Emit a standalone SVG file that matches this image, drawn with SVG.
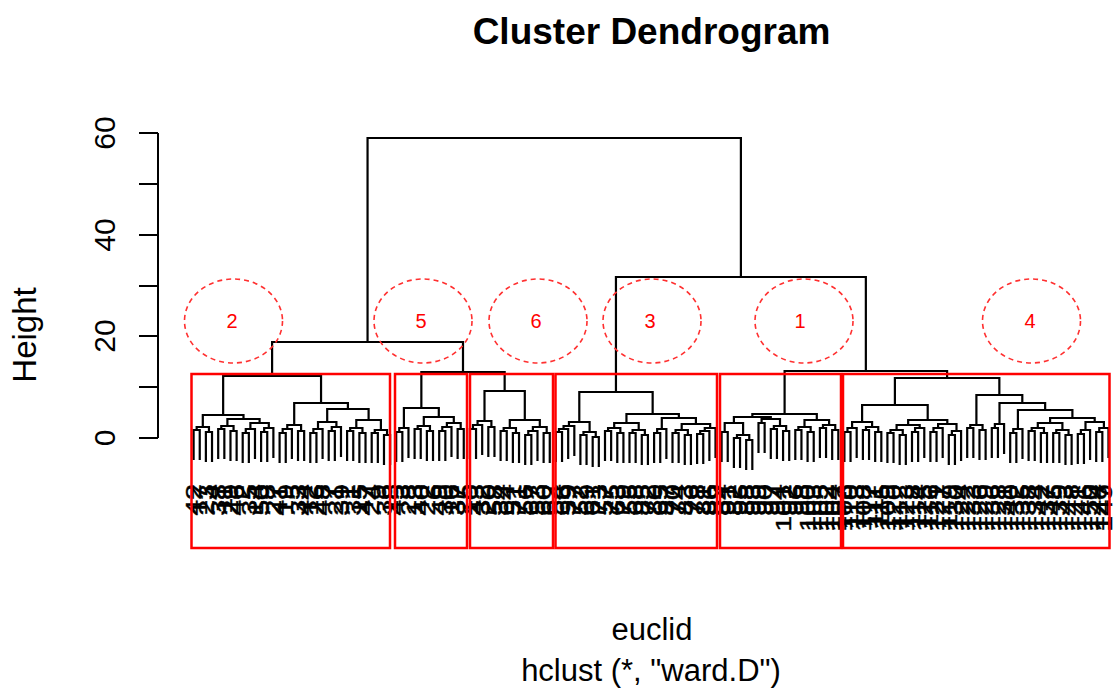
<svg xmlns="http://www.w3.org/2000/svg" xmlns:xlink="http://www.w3.org/1999/xlink" width="1117" height="693" viewBox="0 0 1117 693">
<style>
.t{font-family:"Liberation Sans",Arial,sans-serif;fill:#000}
.dg{fill:none;stroke:#000;stroke-width:2.2}
.ax{fill:none;stroke:#000;stroke-width:2}
.lab text{font-family:"Liberation Sans",Arial,sans-serif;font-size:22px;text-anchor:end;dominant-baseline:central;fill:#000;stroke:#000;stroke-width:0.4}
.box{fill:none;stroke:#ff0000;stroke-width:2.5}
.cl{fill:none;stroke:#ff3030;stroke-width:1.6;stroke-dasharray:5 4}
.cn{font-family:"Liberation Sans",Arial,sans-serif;font-size:20px;fill:#ff0000;text-anchor:middle}
</style>
<defs>
<path id="p2" class="dg" d="M0 30V0H6.14V30"/>
<path id="m3a" class="dg" d="M0 34V4H6.14V34M3.07 4V0H12.28V30"/>
<path id="m4a" class="dg" d="M0 33V3H6.14V33M12.28 35V5H18.42V35M3.07 3V0H15.35V5"/>
<path id="m4b" class="dg" d="M0 36V6H6.14V36M3.07 6V3H12.28V33M7.675 3V0H18.42V30"/>
<path id="m5" class="dg" d="M0 38V8H6.14V38M3.07 8V4H12.28V34M18.42 36V6H24.56V36M7.675 4V0H21.49V6"/>
</defs>
<rect width="1117" height="693" fill="#fff"/>
<text class="t" x="651.5" y="44" font-size="37" font-weight="bold" text-anchor="middle">Cluster Dendrogram</text>
<text class="t" x="652" y="640" font-size="31" text-anchor="middle">euclid</text>
<text class="t" x="651" y="681" font-size="31" text-anchor="middle">hclust (*, "ward.D")</text>
<g id="axis">
<path class="ax" d="M158 133V438M139 133H158M139 184H158M139 235H158M139 286H158M139 336H158M139 387H158M139 438H158"/>
<g class="t" font-size="30" text-anchor="middle">
<text transform="translate(115 133) rotate(-90)">60</text>
<text transform="translate(115 235) rotate(-90)">40</text>
<text transform="translate(115 336) rotate(-90)">20</text>
<text transform="translate(115 438) rotate(-90)">0</text>
</g>
<text class="t" font-size="33" text-anchor="middle" transform="translate(36 335) rotate(-90)">Height</text>
</g>
<g id="connectors">
<g id="leaf-subtrees">
<use href="#m4a" x="193.6" y="427"/><use href="#m4a" x="218.2" y="426"/><use href="#m3a" x="242.7" y="429"/><use href="#m3a" x="261.1" y="428"/><use href="#m5" x="279.6" y="425"/><use href="#m3a" x="310.3" y="429"/><use href="#m3a" x="328.7" y="427"/><use href="#m4a" x="347.1" y="428"/><use href="#m4a" x="371.7" y="430"/>
<use href="#m3a" x="396.2" y="428"/><use href="#m4a" x="414.6" y="426"/><use href="#m5" x="439.2" y="423"/>
<use href="#m5" x="469.9" y="421"/><use href="#m4a" x="500.6" y="428"/><use href="#m5" x="525.2" y="427"/>
<use href="#m4b" x="555.9" y="426"/><use href="#m4a" x="580.4" y="432"/><use href="#m4a" x="605.0" y="428"/><use href="#m4a" x="629.5" y="430"/><use href="#m3a" x="654.1" y="429"/><use href="#m4a" x="672.5" y="430"/><use href="#m4b" x="697.1" y="428"/>
<use href="#p2" x="721.6" y="432"/><use href="#m4a" x="733.9" y="435"/><use href="#p2" x="758.5" y="423"/><use href="#m4a" x="770.8" y="426"/><use href="#m4a" x="795.3" y="427"/><use href="#m4a" x="819.9" y="425"/>
<use href="#m3a" x="844.4" y="428"/><use href="#m4a" x="862.9" y="427"/><use href="#m4a" x="887.4" y="430"/><use href="#m3a" x="912.0" y="428"/><use href="#m3a" x="930.4" y="428"/><use href="#m3a" x="948.8" y="431"/><use href="#m4a" x="967.2" y="425"/><use href="#m3a" x="991.8" y="424"/><use href="#m3a" x="1010.2" y="429"/><use href="#m4a" x="1028.6" y="428"/><use href="#m4a" x="1053.2" y="430"/><use href="#m3a" x="1077.8" y="430"/><use href="#m3a" x="1096.2" y="428"/>
</g>
<path class="dg" d="M250.4 429V423H268.8V428M227.4 426V419H259.6V423M202.8 427V415H243.5V419M318 429V422H336.4V427M356.3 428V420H380.9V430M327.2 422V409H368.6V420M294.2 425V403H347.9V409M223.15 415V376H321.05V403"/>
<path class="dg" d="M423.8 426V417H453.8V423M403.9 428V408H438.8V417"/>
<path class="dg" d="M509.8 428V420H539.8V427M484.5 421V391H524.8V420M421.35 408V372H504.65V391M272.1 376V342H463V372"/>
<path class="dg" d="M568.95 426V422H589.6V432M614.2 428V423H638.7V430M681.7 430V424H710.15V428M661.8 429V418H695.9V424M626.45 423V414H678.85V418M579.3 422V392H652.65V414"/>
<path class="dg" d="M724.7 432V423H743.1V435M761.6 423V419H780V426M733.9 423V417H770.8V419M804.5 427V420H829.1V425M752.35 417V414H816.8V420"/>
<path class="dg" d="M852.1 428V422H872.1V427M896.6 430V425H919.7V428M938.1 428V424H956.5V431M908.15 425V420H947.3V424M862.1 422V405H927.7V420M1037.8 428V423H1062.4V430M1085.5 430V422H1103.9V428M1050.1 423V418H1094.7V422M1017.9 429V410H1072.4V418M999.5 424V403H1045.15V410M976.4 425V395H1022.3V403M894.9 405V378H999.35V395"/>
<path class="dg" d="M784.6 414V371H947.1V378M615.95 392V277H865.85V371M367.55 342V138H740.9V277"/>
</g>
<g id="leaf-labels" class="lab">
<text transform="translate(193.6 484) rotate(-90) scale(1.3 1)">42</text>
<text transform="translate(199.7 484) rotate(-90) scale(1.3 1)">17</text>
<text transform="translate(205.9 484) rotate(-90) scale(1.3 1)">23</text>
<text transform="translate(212.0 484) rotate(-90) scale(1.3 1)">4</text>
<text transform="translate(218.2 484) rotate(-90) scale(1.3 1)">38</text>
<text transform="translate(224.3 484) rotate(-90) scale(1.3 1)">11</text>
<text transform="translate(230.4 484) rotate(-90) scale(1.3 1)">29</text>
<text transform="translate(236.6 484) rotate(-90) scale(1.3 1)">46</text>
<text transform="translate(242.7 484) rotate(-90) scale(1.3 1)">2</text>
<text transform="translate(248.9 484) rotate(-90) scale(1.3 1)">35</text>
<text transform="translate(255.0 484) rotate(-90) scale(1.3 1)">14</text>
<text transform="translate(261.1 484) rotate(-90) scale(1.3 1)">50</text>
<text transform="translate(267.3 484) rotate(-90) scale(1.3 1)">8</text>
<text transform="translate(273.4 484) rotate(-90) scale(1.3 1)">27</text>
<text transform="translate(279.6 484) rotate(-90) scale(1.3 1)">41</text>
<text transform="translate(285.7 484) rotate(-90) scale(1.3 1)">19</text>
<text transform="translate(291.8 484) rotate(-90) scale(1.3 1)">5</text>
<text transform="translate(298.0 484) rotate(-90) scale(1.3 1)">33</text>
<text transform="translate(304.1 484) rotate(-90) scale(1.3 1)">44</text>
<text transform="translate(310.3 484) rotate(-90) scale(1.3 1)">12</text>
<text transform="translate(316.4 484) rotate(-90) scale(1.3 1)">26</text>
<text transform="translate(322.5 484) rotate(-90) scale(1.3 1)">48</text>
<text transform="translate(328.7 484) rotate(-90) scale(1.3 1)">7</text>
<text transform="translate(334.8 484) rotate(-90) scale(1.3 1)">21</text>
<text transform="translate(341.0 484) rotate(-90) scale(1.3 1)">39</text>
<text transform="translate(347.1 484) rotate(-90) scale(1.3 1)">1</text>
<text transform="translate(353.2 484) rotate(-90) scale(1.3 1)">31</text>
<text transform="translate(359.4 484) rotate(-90) scale(1.3 1)">15</text>
<text transform="translate(365.5 484) rotate(-90) scale(1.3 1)">47</text>
<text transform="translate(371.7 484) rotate(-90) scale(1.3 1)">24</text>
<text transform="translate(377.8 484) rotate(-90) scale(1.3 1)">9</text>
<text transform="translate(383.9 484) rotate(-90) scale(1.3 1)">36</text>
<text transform="translate(390.1 484) rotate(-90) scale(1.3 1)">18</text>
<text transform="translate(396.2 484) rotate(-90) scale(1.3 1)">45</text>
<text transform="translate(402.4 484) rotate(-90) scale(1.3 1)">3</text>
<text transform="translate(408.5 484) rotate(-90) scale(1.3 1)">28</text>
<text transform="translate(414.6 484) rotate(-90) scale(1.3 1)">13</text>
<text transform="translate(420.8 484) rotate(-90) scale(1.3 1)">40</text>
<text transform="translate(426.9 484) rotate(-90) scale(1.3 1)">22</text>
<text transform="translate(433.1 484) rotate(-90) scale(1.3 1)">6</text>
<text transform="translate(439.2 484) rotate(-90) scale(1.3 1)">49</text>
<text transform="translate(445.3 484) rotate(-90) scale(1.3 1)">30</text>
<text transform="translate(451.5 484) rotate(-90) scale(1.3 1)">16</text>
<text transform="translate(457.6 484) rotate(-90) scale(1.3 1)">37</text>
<text transform="translate(463.8 484) rotate(-90) scale(1.3 1)">25</text>
<text transform="translate(469.9 484) rotate(-90) scale(1.3 1)">10</text>
<text transform="translate(476.0 484) rotate(-90) scale(1.3 1)">43</text>
<text transform="translate(482.2 484) rotate(-90) scale(1.3 1)">32</text>
<text transform="translate(488.3 484) rotate(-90) scale(1.3 1)">20</text>
<text transform="translate(494.5 484) rotate(-90) scale(1.3 1)">58</text>
<text transform="translate(500.6 484) rotate(-90) scale(1.3 1)">34</text>
<text transform="translate(506.7 484) rotate(-90) scale(1.3 1)">64</text>
<text transform="translate(512.9 484) rotate(-90) scale(1.3 1)">51</text>
<text transform="translate(519.0 484) rotate(-90) scale(1.3 1)">71</text>
<text transform="translate(525.2 484) rotate(-90) scale(1.3 1)">56</text>
<text transform="translate(531.3 484) rotate(-90) scale(1.3 1)">67</text>
<text transform="translate(537.4 484) rotate(-90) scale(1.3 1)">53</text>
<text transform="translate(543.6 484) rotate(-90) scale(1.3 1)">60</text>
<text transform="translate(549.7 484) rotate(-90) scale(1.3 1)">62</text>
<text transform="translate(555.9 484) rotate(-90) scale(1.3 1)">54</text>
<text transform="translate(562.0 484) rotate(-90) scale(1.3 1)">66</text>
<text transform="translate(568.1 484) rotate(-90) scale(1.3 1)">59</text>
<text transform="translate(574.3 484) rotate(-90) scale(1.3 1)">77</text>
<text transform="translate(580.4 484) rotate(-90) scale(1.3 1)">52</text>
<text transform="translate(586.6 484) rotate(-90) scale(1.3 1)">69</text>
<text transform="translate(592.7 484) rotate(-90) scale(1.3 1)">61</text>
<text transform="translate(598.8 484) rotate(-90) scale(1.3 1)">73</text>
<text transform="translate(605.0 484) rotate(-90) scale(1.3 1)">57</text>
<text transform="translate(611.1 484) rotate(-90) scale(1.3 1)">75</text>
<text transform="translate(617.3 484) rotate(-90) scale(1.3 1)">63</text>
<text transform="translate(623.4 484) rotate(-90) scale(1.3 1)">79</text>
<text transform="translate(629.5 484) rotate(-90) scale(1.3 1)">55</text>
<text transform="translate(635.7 484) rotate(-90) scale(1.3 1)">68</text>
<text transform="translate(641.8 484) rotate(-90) scale(1.3 1)">85</text>
<text transform="translate(648.0 484) rotate(-90) scale(1.3 1)">72</text>
<text transform="translate(654.1 484) rotate(-90) scale(1.3 1)">80</text>
<text transform="translate(660.2 484) rotate(-90) scale(1.3 1)">65</text>
<text transform="translate(666.4 484) rotate(-90) scale(1.3 1)">87</text>
<text transform="translate(672.5 484) rotate(-90) scale(1.3 1)">70</text>
<text transform="translate(678.7 484) rotate(-90) scale(1.3 1)">74</text>
<text transform="translate(684.8 484) rotate(-90) scale(1.3 1)">83</text>
<text transform="translate(690.9 484) rotate(-90) scale(1.3 1)">76</text>
<text transform="translate(697.1 484) rotate(-90) scale(1.3 1)">78</text>
<text transform="translate(703.2 484) rotate(-90) scale(1.3 1)">81</text>
<text transform="translate(709.4 484) rotate(-90) scale(1.3 1)">86</text>
<text transform="translate(715.5 484) rotate(-90) scale(1.3 1)">89</text>
<text transform="translate(721.6 484) rotate(-90) scale(1.3 1)">84</text>
<text transform="translate(727.8 484) rotate(-90) scale(1.3 1)">91</text>
<text transform="translate(733.9 484) rotate(-90) scale(1.3 1)">82</text>
<text transform="translate(740.1 484) rotate(-90) scale(1.3 1)">95</text>
<text transform="translate(746.2 484) rotate(-90) scale(1.3 1)">88</text>
<text transform="translate(752.3 484) rotate(-90) scale(1.3 1)">93</text>
<text transform="translate(758.5 484) rotate(-90) scale(1.3 1)">99</text>
<text transform="translate(764.6 484) rotate(-90) scale(1.3 1)">90</text>
<text transform="translate(770.8 484) rotate(-90) scale(1.3 1)">97</text>
<text transform="translate(776.9 484) rotate(-90) scale(1.3 1)">94</text>
<text transform="translate(783.0 484) rotate(-90) scale(1.3 1)">101</text>
<text transform="translate(789.2 484) rotate(-90) scale(1.3 1)">92</text>
<text transform="translate(795.3 484) rotate(-90) scale(1.3 1)">96</text>
<text transform="translate(801.5 484) rotate(-90) scale(1.3 1)">98</text>
<text transform="translate(807.6 484) rotate(-90) scale(1.3 1)">100</text>
<text transform="translate(813.7 484) rotate(-90) scale(1.3 1)">103</text>
<text transform="translate(819.9 484) rotate(-90) scale(1.3 1)">105</text>
<text transform="translate(826.0 484) rotate(-90) scale(1.3 1)">102</text>
<text transform="translate(832.2 484) rotate(-90) scale(1.3 1)">104</text>
<text transform="translate(838.3 484) rotate(-90) scale(1.3 1)">107</text>
<text transform="translate(844.4 484) rotate(-90) scale(1.3 1)">106</text>
<text transform="translate(850.6 484) rotate(-90) scale(1.3 1)">110</text>
<text transform="translate(856.7 484) rotate(-90) scale(1.3 1)">113</text>
<text transform="translate(862.9 484) rotate(-90) scale(1.3 1)">108</text>
<text transform="translate(869.0 484) rotate(-90) scale(1.3 1)">117</text>
<text transform="translate(875.1 484) rotate(-90) scale(1.3 1)">111</text>
<text transform="translate(881.3 484) rotate(-90) scale(1.3 1)">115</text>
<text transform="translate(887.4 484) rotate(-90) scale(1.3 1)">109</text>
<text transform="translate(893.6 484) rotate(-90) scale(1.3 1)">120</text>
<text transform="translate(899.7 484) rotate(-90) scale(1.3 1)">112</text>
<text transform="translate(905.8 484) rotate(-90) scale(1.3 1)">123</text>
<text transform="translate(912.0 484) rotate(-90) scale(1.3 1)">118</text>
<text transform="translate(918.1 484) rotate(-90) scale(1.3 1)">114</text>
<text transform="translate(924.3 484) rotate(-90) scale(1.3 1)">125</text>
<text transform="translate(930.4 484) rotate(-90) scale(1.3 1)">116</text>
<text transform="translate(936.5 484) rotate(-90) scale(1.3 1)">121</text>
<text transform="translate(942.7 484) rotate(-90) scale(1.3 1)">127</text>
<text transform="translate(948.8 484) rotate(-90) scale(1.3 1)">119</text>
<text transform="translate(955.0 484) rotate(-90) scale(1.3 1)">130</text>
<text transform="translate(961.1 484) rotate(-90) scale(1.3 1)">124</text>
<text transform="translate(967.2 484) rotate(-90) scale(1.3 1)">122</text>
<text transform="translate(973.4 484) rotate(-90) scale(1.3 1)">133</text>
<text transform="translate(979.5 484) rotate(-90) scale(1.3 1)">126</text>
<text transform="translate(985.7 484) rotate(-90) scale(1.3 1)">129</text>
<text transform="translate(991.8 484) rotate(-90) scale(1.3 1)">136</text>
<text transform="translate(997.9 484) rotate(-90) scale(1.3 1)">128</text>
<text transform="translate(1004.1 484) rotate(-90) scale(1.3 1)">131</text>
<text transform="translate(1010.2 484) rotate(-90) scale(1.3 1)">140</text>
<text transform="translate(1016.4 484) rotate(-90) scale(1.3 1)">132</text>
<text transform="translate(1022.5 484) rotate(-90) scale(1.3 1)">135</text>
<text transform="translate(1028.6 484) rotate(-90) scale(1.3 1)">138</text>
<text transform="translate(1034.8 484) rotate(-90) scale(1.3 1)">134</text>
<text transform="translate(1040.9 484) rotate(-90) scale(1.3 1)">142</text>
<text transform="translate(1047.1 484) rotate(-90) scale(1.3 1)">137</text>
<text transform="translate(1053.2 484) rotate(-90) scale(1.3 1)">145</text>
<text transform="translate(1059.3 484) rotate(-90) scale(1.3 1)">139</text>
<text transform="translate(1065.5 484) rotate(-90) scale(1.3 1)">143</text>
<text transform="translate(1071.6 484) rotate(-90) scale(1.3 1)">148</text>
<text transform="translate(1077.8 484) rotate(-90) scale(1.3 1)">141</text>
<text transform="translate(1083.9 484) rotate(-90) scale(1.3 1)">146</text>
<text transform="translate(1090.0 484) rotate(-90) scale(1.3 1)">150</text>
<text transform="translate(1096.2 484) rotate(-90) scale(1.3 1)">144</text>
<text transform="translate(1102.3 484) rotate(-90) scale(1.3 1)">147</text>
<text transform="translate(1104.5 484) rotate(-90) scale(1.3 1)">149</text>
</g>
<g id="cluster-2"><rect class="box" x="191.5" y="374" width="198.5" height="174"/><ellipse class="cl" cx="233.5" cy="321" rx="49" ry="42"/><text class="cn" x="232" y="328">2</text></g>
<g id="cluster-5"><rect class="box" x="395" y="374" width="72" height="174"/><ellipse class="cl" cx="423" cy="321" rx="49" ry="42"/><text class="cn" x="421" y="328">5</text></g>
<g id="cluster-6"><rect class="box" x="470" y="374" width="83" height="174"/><ellipse class="cl" cx="538" cy="321" rx="49" ry="42"/><text class="cn" x="536" y="328">6</text></g>
<g id="cluster-3"><rect class="box" x="555.5" y="374" width="161.5" height="174"/><ellipse class="cl" cx="652" cy="321" rx="49" ry="42"/><text class="cn" x="650" y="328">3</text></g>
<g id="cluster-1"><rect class="box" x="720" y="374" width="121" height="174"/><ellipse class="cl" cx="804" cy="321" rx="49" ry="42"/><text class="cn" x="800" y="328">1</text></g>
<g id="cluster-4"><rect class="box" x="843" y="374" width="266.5" height="174"/><ellipse class="cl" cx="1031.5" cy="321" rx="49" ry="42"/><text class="cn" x="1030" y="328">4</text></g>
</svg>
